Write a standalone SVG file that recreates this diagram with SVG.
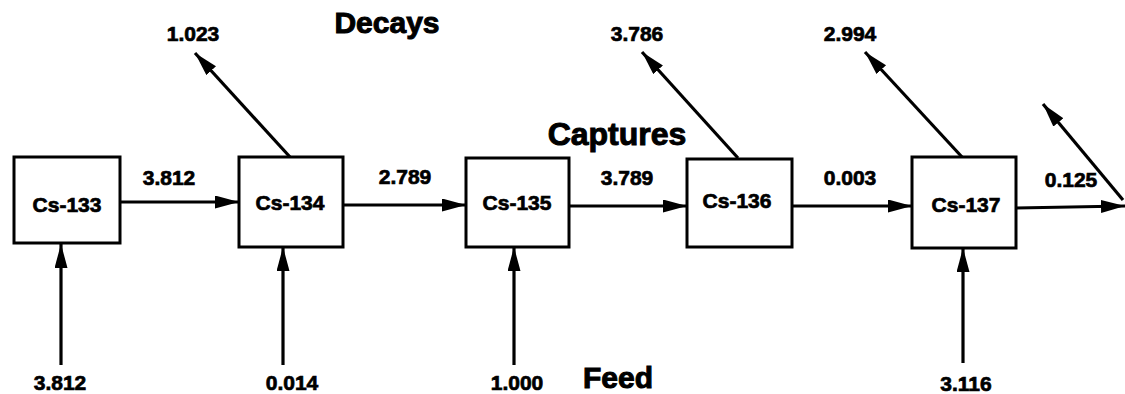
<svg xmlns="http://www.w3.org/2000/svg" width="1125" height="394" viewBox="0 0 1125 394">
<style>
.box{fill:#fff;stroke:#000;stroke-width:3}
.lbl{font-family:"Liberation Sans",Arial,Helvetica,sans-serif;font-weight:bold;font-size:21px;fill:#000;stroke:#000;stroke-width:0.7;text-anchor:middle}
.title{font-family:"Liberation Sans",Arial,Helvetica,sans-serif;font-weight:bold;font-size:30px;fill:#000;stroke:#000;stroke-width:1;text-anchor:middle}
.conn{stroke:#000;stroke-width:3.2;fill:none;marker-end:url(#ah)}
</style>
<defs>
<marker id="ah" markerUnits="userSpaceOnUse" markerWidth="26" markerHeight="14" refX="24" refY="6.5" orient="auto">
<path d="M0,0 L24,6.5 L0,13 z" fill="#000"/>
</marker>
</defs>
<rect width="1125" height="394" fill="#fff"/>
<g id="connectors">
<line class="conn" x1="120" y1="202" x2="239" y2="202"/>
<line class="conn" x1="343" y1="205" x2="466" y2="205"/>
<line class="conn" x1="569" y1="206" x2="687" y2="206"/>
<line class="conn" x1="792" y1="206" x2="912" y2="206"/>
<line class="conn" x1="1016" y1="208" x2="1125" y2="206"/>
<line class="conn" x1="61" y1="365" x2="61" y2="244"/>
<line class="conn" x1="283" y1="365" x2="283" y2="247"/>
<line class="conn" x1="514" y1="365" x2="514" y2="247"/>
<line class="conn" x1="963" y1="363" x2="963" y2="248"/>
<line class="conn" x1="290" y1="157" x2="195" y2="53"/>
<line class="conn" x1="738" y1="158" x2="642" y2="52"/>
<line class="conn" x1="962" y1="157" x2="865" y2="52"/>
<line class="conn" x1="1123" y1="200" x2="1043" y2="104"/>
</g>
<g id="node-cs133"><rect class="box" x="14" y="157" width="106" height="86"/><text class="lbl" x="67" y="212">Cs-133</text></g>
<g id="node-cs134"><rect class="box" x="239" y="157" width="104" height="90"/><text class="lbl" x="290" y="210">Cs-134</text></g>
<g id="node-cs135"><rect class="box" x="466" y="158" width="103" height="89"/><text class="lbl" x="517" y="210">Cs-135</text></g>
<g id="node-cs136"><rect class="box" x="687" y="159" width="105" height="88"/><text class="lbl" x="737" y="208">Cs-136</text></g>
<g id="node-cs137"><rect class="box" x="912" y="157" width="104" height="91"/><text class="lbl" x="966" y="212">Cs-137</text></g>
<g id="labels">
<text class="lbl" x="193" y="41">1.023</text>
<text class="lbl" x="637" y="41">3.786</text>
<text class="lbl" x="850" y="41">2.994</text>
<text class="lbl" x="169" y="185">3.812</text>
<text class="lbl" x="405" y="184">2.789</text>
<text class="lbl" x="627" y="185">3.789</text>
<text class="lbl" x="850" y="185">0.003</text>
<text class="lbl" x="1071" y="187">0.125</text>
<text class="lbl" x="60" y="390">3.812</text>
<text class="lbl" x="292" y="390">0.014</text>
<text class="lbl" x="517" y="390">1.000</text>
<text class="lbl" x="966" y="391">3.116</text>
<text class="title" x="387" y="33">Decays</text>
<text class="title" x="617" y="145" style="font-size:32px">Captures</text>
<text class="title" x="618" y="388">Feed</text>
</g>
</svg>
